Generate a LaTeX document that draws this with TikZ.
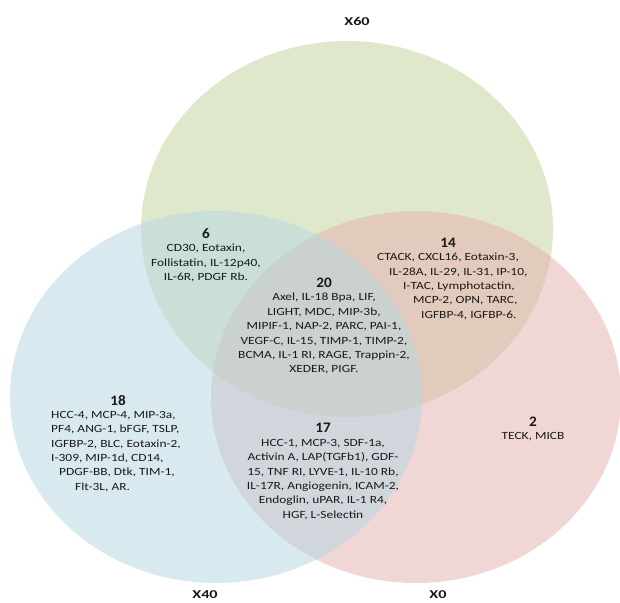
\documentclass[tikz,border=0pt]{standalone}
\usepackage{fontspec}
\setmainfont[FakeStretch=1.22]{Carlito}
\newfontfamily\numfont[FakeStretch=1.05]{Carlito}
\newfontfamily\labfont[FakeStretch=1.35]{Carlito}
\definecolor{gfill}{RGB}{195,211,153}
\definecolor{rfill}{RGB}{229,175,175}
\definecolor{bfill}{RGB}{179,215,227}
\definecolor{txt}{RGB}{25,25,25}
\begin{document}
\begin{tikzpicture}[x=1pt,y=-1pt,
  setlab/.style={font=\labfont\bfseries\fontsize{12}{14}\selectfont, text=txt, inner sep=0pt},
  num/.style={font=\numfont\bfseries\fontsize{14.5}{16}\selectfont, text=txt, inner sep=0pt},
  items/.style={font=\fontsize{11}{14.4}\selectfont, text=txt, align=center, inner sep=0pt, anchor=north},
  venn/.style={fill opacity=0.5}]
\useasboundingbox (0,0) rectangle (620,602);
\fill[white] (0,0) rectangle (620,602);
% circles
\path[venn, fill=gfill] (347,229) ellipse [x radius=206pt, y radius=188pt];
\path[venn, fill=rfill] (416,397) ellipse [x radius=205pt, y radius=186pt];
\path[venn, fill=bfill] (216,397) ellipse [x radius=206pt, y radius=186pt];
% set labels
\node[setlab] (x60) at (357,21) {X60};
\node[setlab] (x40) at (205,595) {X40};
\node[setlab] (x0) at (438,595) {X0};
% region 6
\node[num] (n6) at (206,234) {6};
\node[items] (t6) at (206,244) {CD30, Eotaxin,\\ Follistatin, IL-12p40,\\ IL-6R, PDGF Rb.};
% region 14
\node[num] (n14) at (448,243) {14};
\node[items, align=left, anchor=north west] (t14) at (377,253) {CTACK, CXCL16, Eotaxin-3,\\ \hspace*{12pt}IL-28A, IL-29, IL-31, IP-10,\\ \hspace*{26pt}I-TAC, Lymphotactin,\\ \hspace*{36pt}MCP-2, OPN, TARC,\\ \hspace*{44pt}IGFBP-4, IGFBP-6.};
% region 20
\node[num] (n20) at (324,283) {20};
\node[items] (t20) at (324,293) {Axel, IL-18 Bpa, LIF,\\ LIGHT, MDC, MIP-3b,\\ MIPIF-1, NAP-2, PARC, PAI-1,\\ VEGF-C, IL-15, TIMP-1, TIMP-2,\\ BCMA, IL-1 RI, RAGE, Trappin-2,\\ XEDER, PIGF.};
% region 18
\node[num] (n18) at (118,401) {18};
\node[items, align=left, anchor=north west] (t18) at (51,411) {HCC-4, MCP-4, MIP-3a,\\ PF4, ANG-1, bFGF, TSLP,\\ IGFBP-2, BLC, Eotaxin-2,\\ I-309, MIP-1d, CD14,\\ \hspace*{8pt}PDGF-BB, Dtk, TIM-1,\\ \hspace*{24pt}Flt-3L, AR.};
% region 17
\node[num] (n17) at (323,428) {17};
\node[items] (t17) at (323,439) {HCC-1, MCP-3, SDF-1a,\\ Activin A, LAP(TGFb1), GDF-\\ 15, TNF RI, LYVE-1, IL-10 Rb,\\ IL-17R, Angiogenin, ICAM-2,\\ Endoglin, uPAR, IL-1 R4,\\ HGF, L-Selectin};
% region 2
\node[num] (n2) at (533,422) {2};
\node[items] (t2) at (533,432) {TECK, MICB};
\end{tikzpicture}
\end{document}
